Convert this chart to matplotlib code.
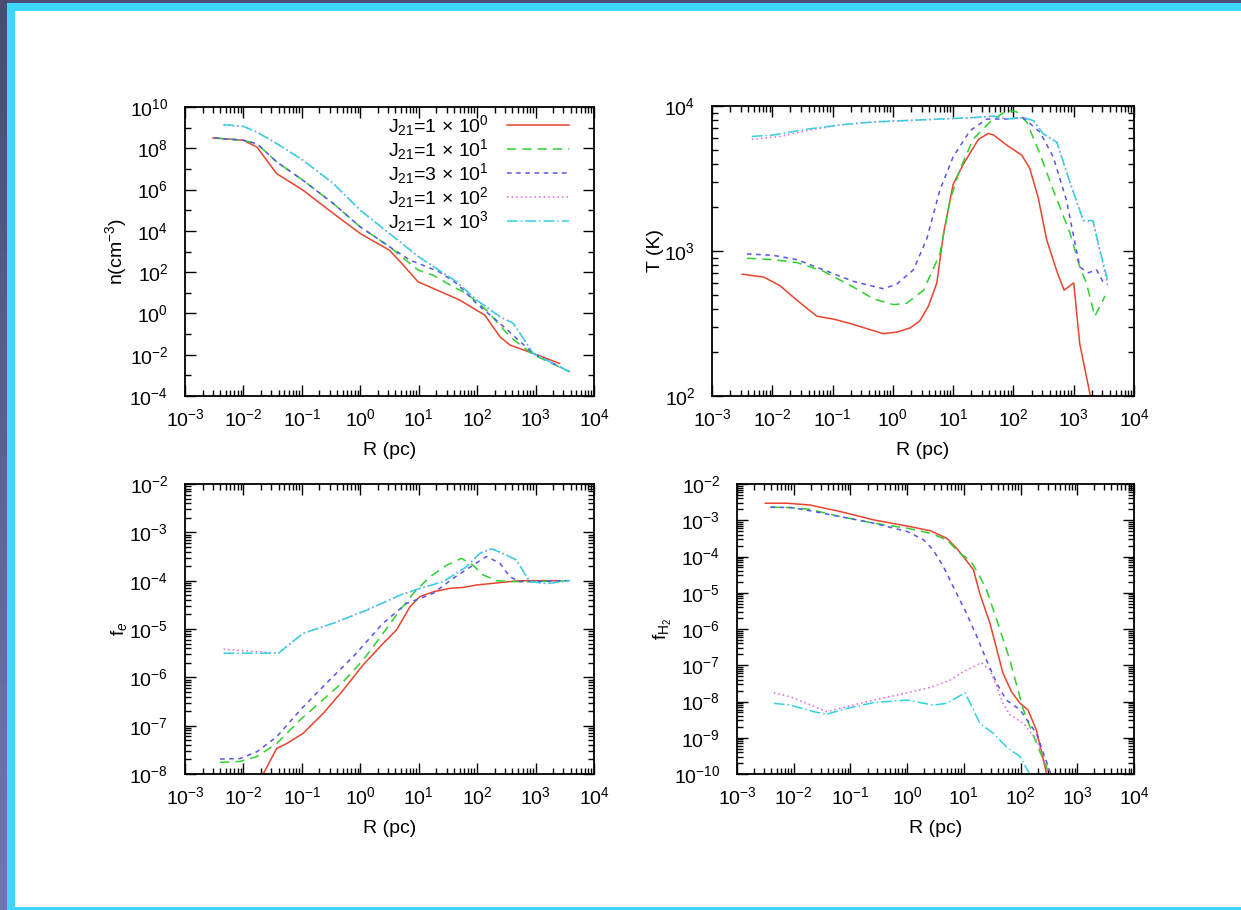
import numpy as np
import matplotlib
matplotlib.use("Agg")
import matplotlib.pyplot as plt
from matplotlib.ticker import FixedLocator, NullFormatter, FuncFormatter
from matplotlib.patches import Rectangle

plt.rcParams['font.family'] = ['Liberation Sans', 'DejaVu Sans']
plt.rcParams['mathtext.fontset'] = 'custom'
plt.rcParams['mathtext.rm'] = 'Liberation Sans'
plt.rcParams['mathtext.it'] = 'Liberation Sans:italic'
plt.rcParams['mathtext.bf'] = 'Liberation Sans:bold'

# ---------------- data (log10 values) ----------------
labels = [r'J$_{21}$=1 × 10$^{0}$', r'J$_{21}$=1 × 10$^{1}$', r'J$_{21}$=3 × 10$^{1}$',
          r'J$_{21}$=1 × 10$^{2}$', r'J$_{21}$=1 × 10$^{3}$']
colors = ['#e8442e', '#2fd02f', '#5656e6', '#e062e0', '#2fd2e2']
styles = ['-', (0, (6, 4)), (0, (3, 3)), (0, (1, 2)), (0, (7, 2, 1, 2))]

# density n(cm^-3)
n_logR_J1 = [-2.52, -2.0, -1.77, -1.43, -0.98, -0.46, 0.0, 0.5, 0.71, 0.99, 1.25, 1.70, 2.13, 2.39, 2.56, 2.96, 3.41]
n_logn_J1 = [8.5, 8.39, 8.06, 6.77, 5.97, 4.84, 3.87, 3.06, 2.42, 1.53, 1.21, 0.65, -0.08, -1.13, -1.53, -1.94, -2.42]
n_logR_J10 = [-2.50, -2.0, -1.77, -1.43, -0.98, -0.46, 0.0, 0.5, 0.85, 0.99, 1.25, 1.59, 1.82, 2.16, 2.56, 2.96, 3.58]
n_logn_J10 = [8.5, 8.39, 8.22, 7.34, 6.45, 5.32, 4.19, 3.23, 2.42, 2.1, 1.85, 1.29, 0.97, 0.16, -1.13, -2.0, -2.82]
n_logR_J30 = [-2.50, -2.0, -1.77, -1.43, -0.98, -0.46, 0.0, 0.5, 0.85, 1.0, 1.36, 1.65, 1.99, 2.39, 2.96, 3.58]
n_logn_J30 = [8.5, 8.39, 8.22, 7.34, 6.45, 5.32, 4.19, 3.23, 2.58, 2.42, 2.0, 1.45, 0.48, -0.48, -1.94, -2.82]
n_logR_J100 = [-2.34, -2.0, -1.77, -1.43, -0.98, -0.46, 0.0, 0.5, 1.0, 1.65, 1.99, 2.39, 2.62, 2.96, 3.58]
n_logn_J100 = [9.13, 9.05, 8.79, 8.23, 7.42, 6.29, 5.0, 3.87, 2.74, 1.53, 0.65, -0.16, -0.48, -1.94, -2.82]
n_logR_J1000 = [-2.34, -2.0, -1.77, -1.43, -0.98, -0.46, 0.0, 0.5, 1.0, 1.65, 1.99, 2.39, 2.62, 2.96, 3.58]
n_logn_J1000 = [9.15, 9.06, 8.79, 8.23, 7.42, 6.29, 5.0, 3.87, 2.74, 1.53, 0.65, -0.16, -0.48, -1.94, -2.82]

# temperature T (K)
T_logR_J1 = [-2.50, -2.14, -1.87, -1.59, -1.26, -0.98, -0.71, -0.16, 0.06, 0.29, 0.45, 0.59, 0.73, 0.84, 1.0,
             1.17, 1.42, 1.58, 1.67, 1.89, 2.14, 2.27, 2.41, 2.55, 2.72, 2.84, 3.0, 3.10, 3.35]
T_logT_J1 = [2.84, 2.82, 2.76, 2.66, 2.55, 2.53, 2.50, 2.43, 2.44, 2.47, 2.52, 2.62, 2.78, 3.12, 3.46,
             3.60, 3.77, 3.81, 3.80, 3.73, 3.66, 3.57, 3.37, 3.08, 2.86, 2.73, 2.78, 2.36, 1.85]
T_logR_J10 = [-2.42, -1.98, -1.59, -1.15, -0.65, -0.32, 0.01, 0.23, 0.51, 0.78, 0.95, 1.11, 1.33, 1.61, 1.89,
              2.05, 2.22, 2.44, 2.66, 2.94, 3.10, 3.21, 3.35, 3.52]
T_logT_J10 = [2.95, 2.94, 2.92, 2.86, 2.75, 2.67, 2.63, 2.64, 2.73, 2.98, 3.35, 3.56, 3.77, 3.89, 3.97,
              3.96, 3.89, 3.67, 3.42, 3.12, 2.89, 2.78, 2.55, 2.69]
T_logR_J30 = [-2.42, -1.98, -1.59, -1.15, -0.65, -0.16, 0.06, 0.34, 0.56, 0.78, 1.0, 1.28, 1.56, 1.89, 2.16,
              2.44, 2.66, 2.88, 3.10, 3.24, 3.38, 3.52]
T_logT_J30 = [2.98, 2.97, 2.94, 2.87, 2.79, 2.74, 2.77, 2.87, 3.08, 3.42, 3.65, 3.83, 3.91, 3.91, 3.92,
              3.82, 3.65, 3.35, 2.89, 2.85, 2.87, 2.76]
T_logR_J100 = [-2.34, -1.87, -1.43, -0.87, -0.32, 0.23, 0.78, 1.33, 1.67, 1.89, 2.16, 2.33, 2.49, 2.72,
               2.94, 3.16, 3.32, 3.43, 3.57]
T_logT_J100 = [3.77, 3.79, 3.83, 3.87, 3.89, 3.90, 3.91, 3.92, 3.93, 3.91, 3.92, 3.90, 3.81, 3.75,
               3.47, 3.21, 3.20, 3.01, 2.75]
T_logR_J1000 = [-2.34, -1.98, -1.43, -0.87, -0.32, 0.23, 0.78, 1.33, 1.67, 1.89, 2.16, 2.33, 2.49, 2.72,
                2.94, 3.16, 3.32, 3.43, 3.57]
T_logT_J1000 = [3.79, 3.80, 3.84, 3.87, 3.89, 3.90, 3.91, 3.92, 3.93, 3.91, 3.92, 3.90, 3.81, 3.75,
                3.47, 3.21, 3.21, 3.01, 2.79]

# electron fraction f_e
fe_logR_J1 = [-1.75, -1.43, -1.26, -0.98, -0.63, -0.29, 0.05, 0.39, 0.62, 0.85, 1.02, 1.25, 1.53, 1.76,
              1.99, 2.39, 2.73, 3.41]
fe_logf_J1 = [-8.2, -7.47, -7.37, -7.16, -6.74, -6.26, -5.74, -5.30, -5.02, -4.54, -4.33, -4.23, -4.16, -4.14,
              -4.09, -4.04, -4.0, -4.0]
fe_logR_J10 = [-2.40, -2.06, -1.77, -1.43, -1.03, -0.58, -0.29, 0.05, 0.39, 0.68, 0.91, 1.19, 1.48, 1.73,
               1.93, 2.10, 2.33, 2.62, 3.01, 3.58]
fe_logf_J10 = [-7.76, -7.74, -7.64, -7.37, -6.88, -6.40, -6.09, -5.64, -5.09, -4.61, -4.26, -3.92, -3.68, -3.54,
               -3.68, -3.88, -4.0, -4.02, -4.02, -4.0]
fe_logR_J30 = [-2.40, -2.06, -1.77, -1.43, -1.03, -0.58, -0.12, 0.39, 0.79, 1.02, 1.25, 1.59, 1.93, 2.16,
               2.39, 2.56, 2.73, 3.58]
fe_logf_J30 = [-7.69, -7.68, -7.54, -7.23, -6.68, -6.12, -5.57, -4.88, -4.47, -4.37, -4.26, -3.95, -3.68, -3.50,
               -3.64, -3.92, -4.02, -4.0]
fe_logR_J100 = [-2.34, -1.77, -1.40, -0.98, -0.46, 0.11, 0.68, 1.02, 1.42, 1.82, 2.05, 2.25, 2.50, 2.67,
                2.90, 3.19, 3.58]
fe_logf_J100 = [-5.42, -5.47, -5.50, -5.09, -4.88, -4.61, -4.30, -4.16, -4.02, -3.71, -3.43, -3.34, -3.47, -3.57,
                -4.02, -4.06, -4.0]
fe_logR_J1000 = [-2.34, -1.77, -1.40, -0.98, -0.46, 0.11, 0.68, 1.02, 1.42, 1.82, 2.05, 2.25, 2.50, 2.67,
                 2.90, 3.19, 3.58]
fe_logf_J1000 = [-5.50, -5.50, -5.50, -5.09, -4.88, -4.61, -4.30, -4.16, -4.02, -3.71, -3.43, -3.34, -3.47, -3.57,
                 -4.02, -4.06, -4.0]

# H2 fraction f_H2
fh_logR_J1 = [-2.50, -2.12, -1.71, -1.18, -0.59, 0.0, 0.41, 0.70, 0.87, 0.99, 1.17, 1.28, 1.46, 1.69, 1.84,
              1.99, 2.13, 2.28, 2.46, 2.50]
fh_logf_J1 = [-2.53, -2.53, -2.58, -2.76, -2.99, -3.16, -3.29, -3.50, -3.77, -4.0, -4.37, -5.02, -5.84, -7.22, -7.73,
              -8.05, -8.23, -8.79, -10.0, -10.3]
fh_logR_J10 = [-2.41, -2.06, -1.71, -1.18, -0.59, 0.0, 0.41, 0.70, 0.93, 1.11, 1.25, 1.40, 1.58, 1.81, 2.05,
               2.28, 2.49, 2.55]
fh_logf_J10 = [-2.64, -2.65, -2.70, -2.90, -3.08, -3.22, -3.36, -3.54, -3.91, -4.10, -4.46, -4.92, -5.75, -6.85,
               -8.23, -9.15, -9.94, -10.3]
fh_logR_J30 = [-2.41, -2.06, -1.77, -1.18, -0.59, 0.0, 0.29, 0.46, 0.64, 0.84, 1.02, 1.23, 1.40, 1.58, 1.75,
               1.99, 2.28, 2.52, 2.58]
fh_logf_J30 = [-2.64, -2.65, -2.72, -2.90, -3.08, -3.31, -3.54, -3.82, -4.28, -4.92, -5.48, -6.21, -6.86, -7.50,
               -7.96, -8.23, -8.88, -9.94, -10.3]
fh_logR_J100 = [-2.35, -2.06, -1.77, -1.42, -1.06, -0.59, 0.0, 0.46, 0.76, 0.99, 1.17, 1.31, 1.46, 1.58, 1.69,
                1.81, 2.05, 2.28, 2.52, 2.58]
fh_logf_J100 = [-7.76, -7.87, -8.05, -8.28, -8.14, -7.96, -7.76, -7.59, -7.41, -7.18, -7.04, -6.93, -7.13, -7.59,
                -8.05, -8.37, -8.60, -9.06, -9.94, -10.3]
fh_logR_J1000 = [-2.35, -2.06, -1.65, -1.42, -1.06, -0.59, 0.0, 0.46, 0.70, 1.02, 1.17, 1.28, 1.52, 1.75,
                 1.99, 2.16, 2.22]
fh_logf_J1000 = [-8.05, -8.10, -8.28, -8.35, -8.19, -8.03, -7.96, -8.10, -8.05, -7.76, -8.23, -8.60, -8.88, -9.25,
                 -9.52, -10.0, -10.3]

n_R = [n_logR_J1, n_logR_J10, n_logR_J30, n_logR_J100, n_logR_J1000]
n_V = [n_logn_J1, n_logn_J10, n_logn_J30, n_logn_J100, n_logn_J1000]
T_R = [T_logR_J1, T_logR_J10, T_logR_J30, T_logR_J100, T_logR_J1000]
T_V = [T_logT_J1, T_logT_J10, T_logT_J30, T_logT_J100, T_logT_J1000]
fe_R = [fe_logR_J1, fe_logR_J10, fe_logR_J30, fe_logR_J100, fe_logR_J1000]
fe_V = [fe_logf_J1, fe_logf_J10, fe_logf_J30, fe_logf_J100, fe_logf_J1000]
fh_R = [fh_logR_J1, fh_logR_J10, fh_logR_J30, fh_logR_J100, fh_logR_J1000]
fh_V = [fh_logf_J1, fh_logf_J10, fh_logf_J30, fh_logf_J100, fh_logf_J1000]

# ---------------- figure ----------------
W, H = 1241, 910
fig = plt.figure(figsize=(W / 100, H / 100), dpi=100)
fig.patch.set_facecolor('white')

# screenshot frame
def frect(x0, y0, w, h, c):
    fig.patches.append(Rectangle((x0 / W, 1 - (y0 + h) / H), w / W, h / H,
                                 transform=fig.transFigure, facecolor=c, edgecolor='none', zorder=-10))
frect(0, 0, W, 3, '#4d4f78')
c_top = np.array([0x4a, 0x4b, 0x72]) / 255.0
c_bot = np.array([0x72, 0x74, 0xb2]) / 255.0
nseg = 40
for k in range(nseg):
    t = k / (nseg - 1)
    frect(0, k * H / nseg, 7, H / nseg + 1, tuple(c_top * (1 - t) + c_bot * t))
frect(7, 3, W - 7, 8, '#3dd6fc')
frect(7, 3, 8, H - 3, '#3dd6fc')
frect(7, 907, W - 7, 3, '#3dd6fc')

def ax_at(x0, y0, x1, y1):
    return fig.add_axes([x0 / W, 1 - y1 / H, (x1 - x0) / W, (y1 - y0) / H])

fs = 14
def sup_fmt(v, pos):
    e = int(round(np.log10(v)))
    return r'$\mathregular{10^{%d}}$' % e

def style_axes(ax, ymin_e, ymax_e, ystep):
    ax.set_xscale('log')
    ax.set_yscale('log')
    ax.set_xlim(1e-3, 1e4)
    ax.set_ylim(10.0 ** ymin_e, 10.0 ** ymax_e)
    ax.xaxis.set_major_locator(FixedLocator([10.0 ** e for e in range(-3, 5)]))
    ax.xaxis.set_minor_locator(FixedLocator([k * 10.0 ** e for e in range(-3, 4) for k in range(2, 10)]))
    ax.yaxis.set_major_locator(FixedLocator([10.0 ** e for e in range(ymin_e, ymax_e + 1, ystep)]))
    if ystep == 1:
        ax.yaxis.set_minor_locator(FixedLocator([k * 10.0 ** e for e in range(ymin_e, ymax_e) for k in range(2, 10)]))
    else:
        ax.yaxis.set_minor_locator(FixedLocator([10.0 ** e for e in range(ymin_e, ymax_e + 1) if (e - ymin_e) % ystep]))
    ax.xaxis.set_major_formatter(FuncFormatter(sup_fmt))
    ax.yaxis.set_major_formatter(FuncFormatter(sup_fmt))
    ax.xaxis.set_minor_formatter(NullFormatter())
    ax.yaxis.set_minor_formatter(NullFormatter())
    ax.tick_params(which='both', direction='in', top=True, right=True, labelsize=fs, width=1.0)
    ax.tick_params(axis='x', which='major', pad=9)
    ax.tick_params(axis='y', which='major', pad=12)
    ax.tick_params(which='major', length=8)
    ax.tick_params(which='minor', length=4)
    for s in ax.spines.values():
        s.set_linewidth(1.3)
    ax.set_xlabel('R (pc)', fontsize=fs, labelpad=8)

def draw(ax, Rs, Vs):
    for i in range(5):
        ax.plot(10.0 ** np.array(Rs[i]), 10.0 ** np.array(Vs[i]), color=colors[i],
                linestyle=styles[i], linewidth=1.1, label=labels[i])

ax1 = ax_at(185, 107, 594, 396)
style_axes(ax1, -4, 10, 2)
draw(ax1, n_R, n_V)
ax1.set_ylabel(r'n(cm$^{-3}$)', fontsize=fs, labelpad=0)
leg = ax1.legend(loc='upper right', bbox_to_anchor=(0.962, 1.012), frameon=False, fontsize=fs,
                 markerfirst=False, handlelength=3.2, labelspacing=-0.05, borderpad=0, handletextpad=0.9)

ax2 = ax_at(712, 106, 1134, 396)
style_axes(ax2, 2, 4, 1)
draw(ax2, T_R, T_V)
ax2.set_ylabel('T (K)', fontsize=fs, labelpad=0)

ax3 = ax_at(185, 484, 594, 774)
style_axes(ax3, -8, -2, 1)
draw(ax3, fe_R, fe_V)
ax3.set_ylabel(r'f$_{e}$', fontsize=fs, labelpad=0)

ax4 = ax_at(737, 484, 1134, 774)
style_axes(ax4, -10, -2, 1)
draw(ax4, fh_R, fh_V)
ax4.set_ylabel(r'f$_{\mathregular{H_2}}$', fontsize=fs, labelpad=0)

fig.savefig('out.png', dpi=100, facecolor=fig.get_facecolor())
